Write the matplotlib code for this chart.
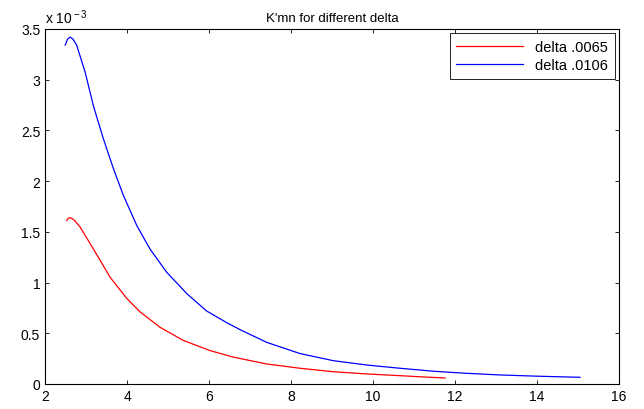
import matplotlib
matplotlib.use('Agg')
import matplotlib.pyplot as plt
from matplotlib.ticker import FuncFormatter

# values (y in units of 1e-3)
x_0065 = [2.53, 2.57, 2.61, 2.70, 2.85, 3.18, 3.59, 4.00, 4.32, 4.80, 5.37,
          6.02, 6.59, 7.41, 8.22, 9.03, 9.85, 10.66, 11.2, 11.76]
k_0065 = [1.61, 1.635, 1.64, 1.62, 1.55, 1.33, 1.05, 0.84, 0.71, 0.56, 0.43,
          0.33, 0.265, 0.197, 0.155, 0.121, 0.099, 0.082, 0.070, 0.059]

x_0106 = [2.49, 2.55, 2.61, 2.68, 2.77, 2.98, 3.18, 3.42, 3.67, 3.91, 4.24,
          4.56, 4.97, 5.46, 5.94, 6.43, 6.76, 7.41, 8.22, 9.03, 9.85, 10.66,
          11.5, 12.3, 13.1, 14.0, 15.05]
k_0106 = [3.34, 3.40, 3.42, 3.40, 3.34, 3.07, 2.74, 2.42, 2.12, 1.86, 1.56,
          1.33, 1.10, 0.89, 0.72, 0.605, 0.535, 0.41, 0.30, 0.23, 0.187, 0.155,
          0.125, 0.105, 0.089, 0.077, 0.066]

labels = ['delta .0065', 'delta .0106']
xticks = [2, 4, 6, 8, 10, 12, 14, 16]
yticks = [0, 0.5, 1, 1.5, 2, 2.5, 3, 3.5]

plt.rcParams['font.family'] = ['Liberation Sans', 'DejaVu Sans']
plt.rcParams['font.size'] = 10
plt.rcParams['mathtext.fontset'] = 'custom'
plt.rcParams['mathtext.rm'] = 'Liberation Sans'

fig = plt.figure(figsize=(6.44, 4.10), dpi=100)
ax = fig.add_axes([0.070, 0.061, 0.891, 0.866])

ax.plot(x_0065, [v * 1e-3 for v in k_0065], color='red', lw=0.9, label=labels[0])
ax.plot(x_0106, [v * 1e-3 for v in k_0106], color='blue', lw=0.9, label=labels[1])

ax.set_xlim(2, 16)
ax.set_ylim(0, 3.5e-3)
ax.set_xticks(xticks)
ax.set_yticks([v * 1e-3 for v in yticks])
ax.yaxis.set_major_formatter(FuncFormatter(lambda v, p: '%g' % round(v * 1e3, 4)))
ax.text(0.0, 1.008, 'x 10$^{\\rm -3}$', transform=ax.transAxes, ha='left', va='bottom', fontsize=10)

ax.tick_params(direction='in', top=True, right=True, length=3, width=0.6, labelsize=10)
for s in ax.spines.values():
    s.set_linewidth(0.8)

ax.set_title("K'mn for different delta", fontsize=9.5, pad=6)

leg = ax.legend(loc='upper right', fancybox=False, edgecolor='black',
                framealpha=1, fontsize=10.5, handlelength=4.6,
                borderaxespad=0.3, labelspacing=0.3, borderpad=0.45)
leg.get_frame().set_linewidth(0.6)

fig.savefig('out.png', dpi=100, facecolor='white')
